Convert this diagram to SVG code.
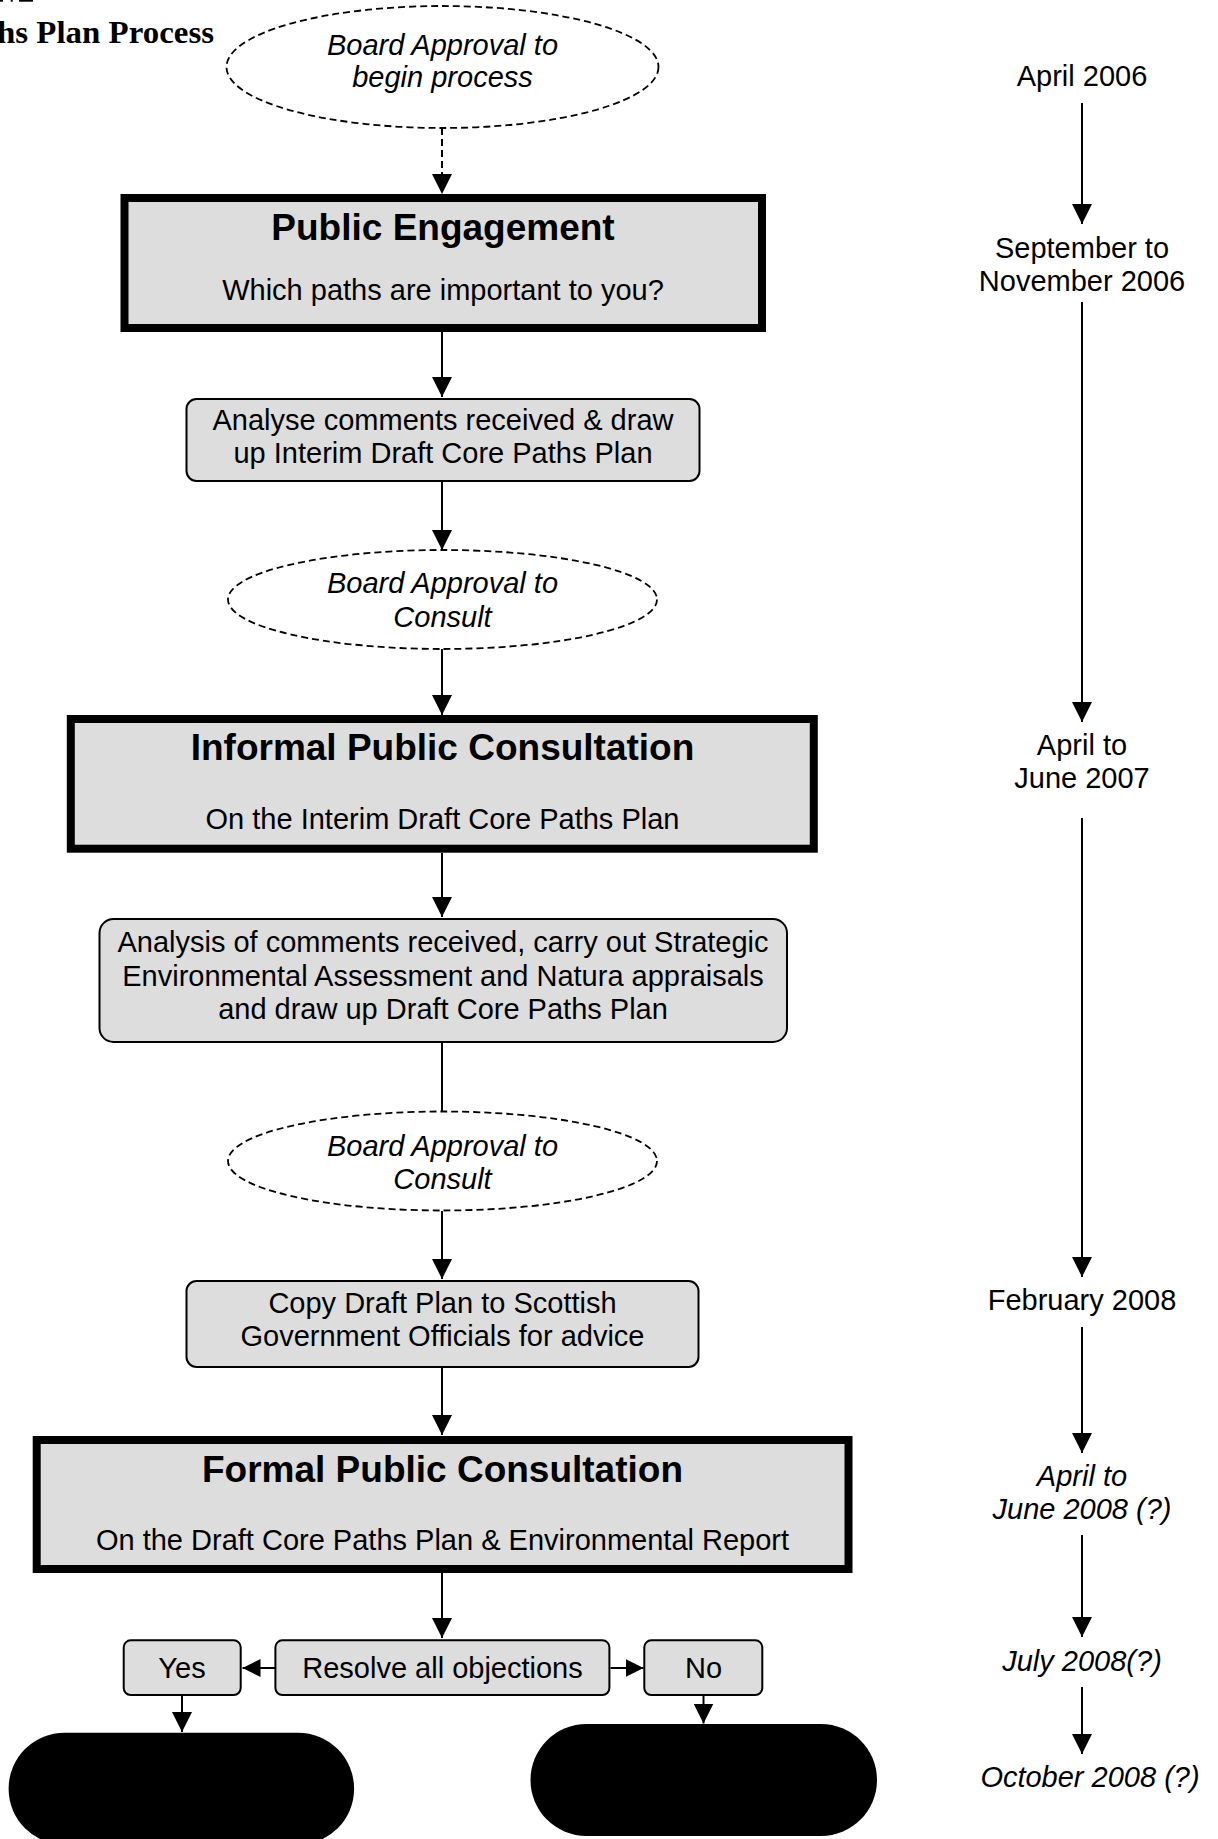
<svg xmlns="http://www.w3.org/2000/svg" width="1218" height="1839" viewBox="0 0 1218 1839">
  <defs>
    <marker id="arr" markerUnits="userSpaceOnUse" markerWidth="20" markerHeight="20" refX="20" refY="10" orient="auto">
      <path d="M0,0 L20,10 L0,20 Z" fill="#000"/>
    </marker>
    <marker id="arrs" markerUnits="userSpaceOnUse" markerWidth="18" markerHeight="18" refX="18" refY="9" orient="auto">
      <path d="M0,0 L18,9 L0,18 Z" fill="#000"/>
    </marker>
    <style>
      .t { font-family: "Liberation Sans", Arial, sans-serif; fill: #000; text-anchor: middle; }
      .body { font-size: 29px; }
      .it { font-size: 29px; font-style: italic; }
      .head { font-size: 37px; font-weight: bold; }
      .major { fill: #dddddd; stroke: #000; stroke-width: 8; }
      .minor { fill: #dddddd; stroke: #000; stroke-width: 2; }
      .oval { fill: #fff; stroke: #000; stroke-width: 1.8; stroke-dasharray: 7 4; }
      .pill { fill: #000; }
      .c { stroke: #000; stroke-width: 2; fill: none; marker-end: url(#arr); }
      .cs { stroke: #000; stroke-width: 2; fill: none; marker-end: url(#arrs); }
      .dash { stroke-dasharray: 7 4; }
    </style>
  </defs>
  <rect width="1218" height="1839" fill="#fff"/>

  <!-- title fragment -->
  <g id="title">
    <rect x="0" y="0" width="3" height="1.7" fill="#000"/>
    <rect x="10.7" y="0" width="2" height="1.7" fill="#000"/>
    <rect x="19" y="0" width="14" height="1.7" fill="#000"/>
    <text x="-3" y="43" textLength="217" lengthAdjust="spacingAndGlyphs" style="font-family:'Liberation Serif','Times New Roman',serif;font-size:32px;font-weight:bold;fill:#000">hs Plan Process</text>
  </g>

  <!-- connectors -->
  <g id="connectors">
    <line class="c dash" x1="442" y1="128" x2="442" y2="194"/>
    <line class="c" x1="442" y1="332" x2="442" y2="397"/>
    <line class="c" x1="442" y1="482" x2="442" y2="550"/>
    <line class="c" x1="442" y1="649" x2="442" y2="715"/>
    <line class="c" x1="442" y1="853" x2="442" y2="917"/>
    <line class="c" x1="442" y1="1043" x2="442" y2="1134"/>
    <line class="c" x1="442" y1="1211" x2="442" y2="1279"/>
    <line class="c" x1="442" y1="1368" x2="442" y2="1435"/>
    <line class="c" x1="442" y1="1573" x2="442" y2="1638"/>
    <line class="cs" x1="275" y1="1668" x2="242.5" y2="1668"/>
    <line class="cs" x1="610.5" y1="1668" x2="643.5" y2="1668"/>
    <line class="c" x1="182" y1="1696" x2="182" y2="1732"/>
    <line class="c" x1="703.5" y1="1696" x2="703.5" y2="1723.5"/>
    <!-- timeline -->
    <line class="c" x1="1082" y1="103" x2="1082" y2="224"/>
    <line class="c" x1="1082" y1="302" x2="1082" y2="722"/>
    <line class="c" x1="1082" y1="818" x2="1082" y2="1277"/>
    <line class="c" x1="1082" y1="1327" x2="1082" y2="1453"/>
    <line class="c" x1="1082" y1="1535" x2="1082" y2="1637"/>
    <line class="c" x1="1082" y1="1687" x2="1082" y2="1754"/>
  </g>

  <!-- nodes -->
  <g id="n-approval-begin">
    <ellipse class="oval" cx="442.5" cy="67" rx="216" ry="61"/>
    <text class="t it" x="442.5" y="55">Board Approval to</text>
    <text class="t it" x="442.5" y="87">begin process</text>
  </g>

  <g id="n-public-engagement">
    <rect class="major" x="124.5" y="198" width="637.5" height="130"/>
    <text class="t head" x="443" y="240">Public Engagement</text>
    <text class="t body" x="443" y="300">Which paths are important to you?</text>
  </g>

  <g id="n-analyse">
    <rect class="minor" x="186.5" y="399" width="513" height="82" rx="10"/>
    <text class="t body" x="443" y="430">Analyse comments received &amp; draw</text>
    <text class="t body" x="443" y="463">up Interim Draft Core Paths Plan</text>
  </g>

  <g id="n-approval-consult-1">
    <ellipse class="oval" cx="442.5" cy="599.5" rx="214.5" ry="49.5"/>
    <text class="t it" x="442.5" y="593">Board Approval to</text>
    <text class="t it" x="442.5" y="626.5">Consult</text>
  </g>

  <g id="n-informal">
    <rect class="major" x="70.8" y="719" width="743" height="129.7"/>
    <text class="t head" x="442.5" y="760">Informal Public Consultation</text>
    <text class="t body" x="442.5" y="829">On the Interim Draft Core Paths Plan</text>
  </g>

  <g id="n-analysis-sea">
    <rect class="minor" x="99.5" y="919" width="687.5" height="123" rx="14"/>
    <text class="t body" x="443" y="952">Analysis of comments received, carry out Strategic</text>
    <text class="t body" x="443" y="985.5">Environmental Assessment and Natura appraisals</text>
    <text class="t body" x="443" y="1019">and draw up Draft Core Paths Plan</text>
  </g>

  <g id="n-approval-consult-2">
    <ellipse class="oval" cx="442.5" cy="1161" rx="214.5" ry="49.5"/>
    <text class="t it" x="442.5" y="1156">Board Approval to</text>
    <text class="t it" x="442.5" y="1188.5">Consult</text>
  </g>

  <g id="n-copy-draft">
    <rect class="minor" x="186.5" y="1281" width="512" height="86" rx="10"/>
    <text class="t body" x="442.5" y="1313">Copy Draft Plan to Scottish</text>
    <text class="t body" x="442.5" y="1346">Government Officials for advice</text>
  </g>

  <g id="n-formal">
    <rect class="major" x="36.7" y="1440" width="811.8" height="129"/>
    <text class="t head" x="442.5" y="1482">Formal Public Consultation</text>
    <text class="t body" x="442.5" y="1549.5">On the Draft Core Paths Plan &amp; Environmental Report</text>
  </g>

  <g id="n-resolve">
    <rect class="minor" x="275.4" y="1640.3" width="334" height="54.7" rx="7"/>
    <text class="t body" x="442.5" y="1678">Resolve all objections</text>
  </g>

  <g id="n-yes">
    <rect class="minor" x="123.7" y="1640.3" width="117" height="54.7" rx="7"/>
    <text class="t body" x="182" y="1678">Yes</text>
  </g>

  <g id="n-no">
    <rect class="minor" x="644.3" y="1640.3" width="118" height="54.7" rx="7"/>
    <text class="t body" x="703.5" y="1678">No</text>
  </g>

  <g id="n-end-yes">
    <rect class="pill" x="8.6" y="1732.7" width="345.5" height="112" rx="56" ry="56"/>
  </g>

  <g id="n-end-no">
    <rect class="pill" x="530.5" y="1724" width="346.5" height="112" rx="56" ry="56"/>
  </g>

  <!-- timeline labels -->
  <g id="d-april-2006"><text class="t body" x="1082" y="86">April 2006</text></g>
  <g id="d-sep-nov-2006">
    <text class="t body" x="1082" y="258">September to</text>
    <text class="t body" x="1082" y="291">November 2006</text>
  </g>
  <g id="d-apr-jun-2007">
    <text class="t body" x="1082" y="755">April to</text>
    <text class="t body" x="1082" y="788">June 2007</text>
  </g>
  <g id="d-feb-2008"><text class="t body" x="1082" y="1310">February 2008</text></g>
  <g id="d-apr-jun-2008">
    <text class="t it" x="1082" y="1486">April to</text>
    <text class="t it" x="1082" y="1519">June 2008 (?)</text>
  </g>
  <g id="d-jul-2008"><text class="t it" x="1082" y="1671">July 2008(?)</text></g>
  <g id="d-oct-2008"><text class="t it" x="1090" y="1787">October 2008 (?)</text></g>
</svg>
